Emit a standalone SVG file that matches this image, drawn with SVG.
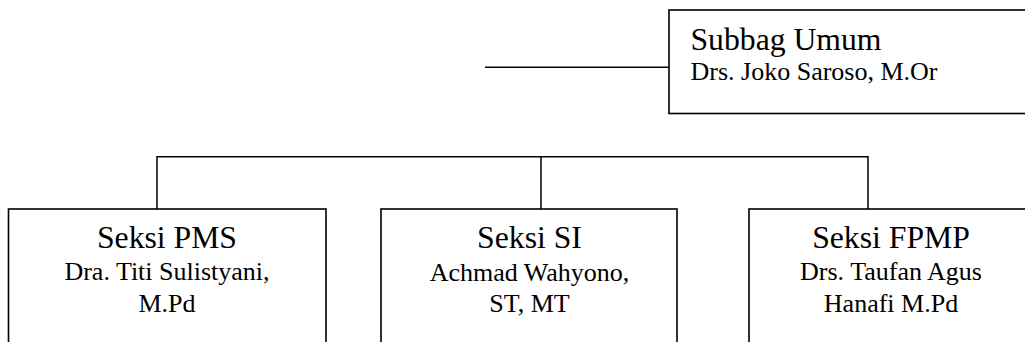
<svg xmlns="http://www.w3.org/2000/svg" width="1025" height="342" viewBox="0 0 1025 342">
<style>
.box{fill:#fff;stroke:#000;stroke-width:1.6}
.conn{fill:none;stroke:#000;stroke-width:1.5}
.t{font-family:"Liberation Serif","Times New Roman",serif;fill:#000}
.h{font-size:31.7px}
.s{font-size:26px}
.c{text-anchor:middle}
</style>
<rect width="1025" height="342" fill="#fff"/>
<g id="connectors">
<line class="conn" x1="485" y1="67.3" x2="669" y2="67.3"/>
<path class="conn" d="M157 209 V156.7 H868 V209 M541 156.7 V209"/>
</g>
<g id="subbag-umum">
<rect class="box" x="669" y="10" width="380" height="103.5"/>
<text class="t h" x="690.5" y="50">Subbag Umum</text>
<text class="t s" x="690.5" y="80">Drs. Joko Saroso, M.Or</text>
</g>
<g id="seksi-pms">
<rect class="box" x="8.5" y="209" width="317.5" height="150"/>
<text class="t h c" x="167" y="248">Seksi PMS</text>
<text class="t s c" x="167" y="280">Dra. Titi Sulistyani,</text>
<text class="t s c" x="167" y="312">M.Pd</text>
</g>
<g id="seksi-si">
<rect class="box" x="381" y="209" width="296" height="150"/>
<text class="t h c" x="529.5" y="248">Seksi SI</text>
<text class="t s c" x="529.5" y="281">Achmad Wahyono,</text>
<text class="t s c" x="529.5" y="312">ST, MT</text>
</g>
<g id="seksi-fpmp">
<rect class="box" x="749" y="209" width="290" height="150"/>
<text class="t h c" x="891" y="248">Seksi FPMP</text>
<text class="t s c" x="891" y="280">Drs. Taufan Agus</text>
<text class="t s c" x="891" y="312">Hanafi M.Pd</text>
</g>
</svg>
